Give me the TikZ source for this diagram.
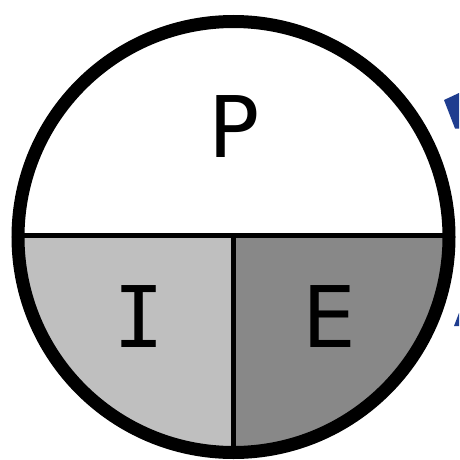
\documentclass[tikz,border=0pt]{standalone}
\usepackage{fontspec}
\setmainfont{DejaVu Sans}
\newfontfamily\monoI{DejaVu Sans Mono}
\definecolor{lightg}{HTML}{BFBFBF}
\definecolor{darkg}{HTML}{888888}
\definecolor{navy}{HTML}{1F3D8F}
\begin{document}
\begin{tikzpicture}[x=1pt,y=-1pt,
  lbl/.style={anchor=base,inner sep=0pt,font=\fontsize{85}{90}\selectfont}]
\useasboundingbox (0,0) rectangle (459,460);
\fill[white] (0,0) rectangle (459,460);
\coordinate (c) at (233.5,237);
% shaded lower quadrants
\begin{scope}
\clip (c) circle[radius=215.5];
\fill[lightg] (0,235.3) rectangle (233.3,460);
\fill[darkg] (233.3,235.3) rectangle (459,460);
\end{scope}
% dividing lines
\coordinate (hl) at (15,235.3);
\coordinate (hr) at (452,235.3);
\coordinate (vt) at (233.3,235.3);
\coordinate (vb) at (233.3,455);
\draw[line width=4.5pt] (hl) -- (hr);
\draw[line width=5pt] (vt) -- (vb);
% outer ring
\draw[line width=13pt] (c) circle[radius=215.5];
% blue fragments at the right edge
\fill[navy] (444,100) -- (459,93) -- (459,128.5) -- (455,128.5) -- cycle;
\fill[navy] (454,326) -- (459,313) -- (459,326) -- cycle;
% labels
\node[lbl] (P) at (233.7,157) {P};
\node[lbl] (I) at (139,347) {\monoI I};
\node[lbl] (E) at (329.5,347) {E};
\end{tikzpicture}
\end{document}
